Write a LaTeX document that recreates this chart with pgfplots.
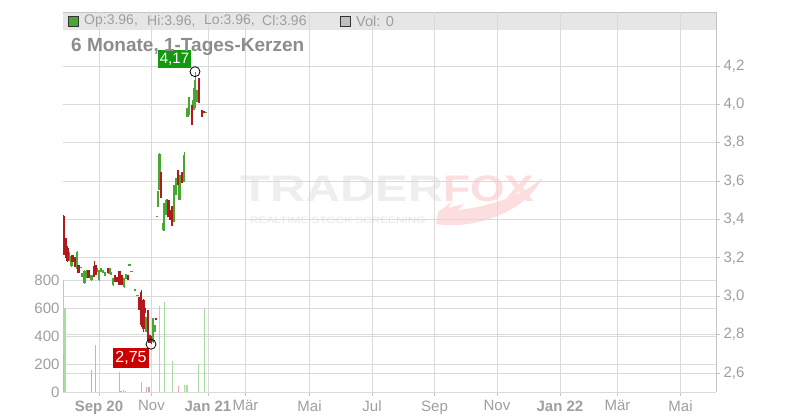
\documentclass[border=0pt]{standalone}
\usepackage{fontspec}
\setmainfont{Liberation Sans}
\usepackage{pgfplots}
\pgfplotsset{compat=1.18}
\usepackage{pgfplotstable}

\definecolor{cgreen}{HTML}{46A82E}
\definecolor{cred}{HTML}{B3191C}
\definecolor{vgreen}{HTML}{A8DCA0}
\definecolor{vred}{HTML}{EFA3AB}
\definecolor{vgray}{HTML}{B4B4B4}
\definecolor{gridc}{HTML}{DADADA}
\definecolor{axc}{HTML}{C4C4C4}
\definecolor{labc}{HTML}{9E9E9E}
\definecolor{titc}{HTML}{8C8C8C}
\definecolor{bandc}{HTML}{E6E6E6}
\definecolor{boxgreen}{HTML}{12990F}
\definecolor{boxred}{HTML}{CC0000}
\definecolor{wmgray}{HTML}{EEEEEE}
\definecolor{wmgray2}{HTML}{E6E6E6}
\definecolor{wmred}{HTML}{FCDEDE}

% green (rising) candles: x open high low close
\pgfplotstableread{
x o h l c
69 3.189 3.230 3.185 3.226
71.5 3.158 3.215 3.150 3.210
77 3.142 3.236 3.137 3.231
81 3.147 3.153 3.147 3.153
82.5 3.101 3.121 3.101 3.121
84.5 3.070 3.137 3.064 3.132
87 3.095 3.137 3.095 3.137
91.5 3.085 3.111 3.080 3.111
97 3.126 3.147 3.126 3.147
99 3.085 3.137 3.080 3.137
101 3.126 3.147 3.126 3.147
103 3.121 3.137 3.121 3.137
105 3.106 3.126 3.106 3.126
109.5 3.116 3.147 3.116 3.147
111 3.111 3.126 3.111 3.126
113 3.059 3.095 3.055 3.095
124 3.048 3.095 3.045 3.095
126 3.090 3.116 3.090 3.116
129.5 3.160 3.166 3.160 3.166
131.5 3.126 3.132 3.126 3.132
135 3.028 3.038 3.028 3.038
137.5 3.002 3.007 3.002 3.007
146.5 2.814 2.892 2.814 2.892
153 2.762 2.887 2.757 2.887
154.5 2.814 2.850 2.814 2.850
157 3.413 3.418 3.413 3.418
157.8 3.465 3.549 3.465 3.549
159.5 3.554 3.746 3.554 3.741
163 3.345 3.382 3.340 3.382
164.3 3.345 3.486 3.340 3.486
165.8 3.424 3.502 3.424 3.502
167.2 3.434 3.507 3.434 3.507
174 3.387 3.580 3.387 3.580
176 3.528 3.616 3.528 3.616
179.5 3.502 3.632 3.502 3.632
184 3.596 3.752 3.596 3.736
187.5 3.934 3.981 3.934 3.981
189 3.945 4.038 3.945 4.038
193.5 3.971 4.085 3.971 4.023
195 3.981 4.169 3.981 4.127
196.5 4.012 4.075 4.012 4.075
206 3.958 3.962 3.958 3.962
}\greencandles

% red (falling) candles: x open high low close
\pgfplotstableread{
x o h l c
63.8 3.418 3.425 3.215 3.226
65.5 3.304 3.304 3.200 3.215
67.5 3.252 3.260 3.180 3.184
72.5 3.215 3.215 3.179 3.179
75 3.205 3.205 3.153 3.153
78.5 3.163 3.163 3.121 3.121
88.5 3.137 3.137 3.095 3.095
94 3.158 3.184 3.101 3.101
95.5 3.163 3.163 3.111 3.111
108 3.147 3.147 3.121 3.121
115 3.111 3.111 3.074 3.074
117 3.101 3.101 3.074 3.074
119.5 3.132 3.132 3.059 3.059
122 3.111 3.111 3.059 3.059
128 3.111 3.111 3.085 3.085
139.5 2.996 2.996 2.929 2.929
141 3.020 3.033 2.840 2.850
143.5 2.981 2.986 2.814 2.830
145 2.939 2.939 2.913 2.913
148 2.929 2.929 2.772 2.772
149.5 2.798 2.798 2.757 2.757
151 2.788 2.793 2.751 2.757
156 2.887 2.887 2.876 2.876
161 3.648 3.648 3.512 3.512
168.5 3.502 3.502 3.413 3.413
170 3.450 3.450 3.398 3.398
172 3.471 3.471 3.366 3.366
178 3.658 3.658 3.580 3.580
182 3.648 3.648 3.590 3.590
192 3.997 4.023 3.893 3.893
199 4.137 4.137 4.007 4.007
202 3.971 3.971 3.934 3.934
203.5 3.965 3.965 3.955 3.955
}\redcandles

\pgfplotstableread{
x v
65 600
159.3 615
164.3 645
172.2 222
184.2 50
187 50
198.3 200
204.3 602
}\greenvol

\pgfplotstableread{
x v
63.5 280
95.3 336
119.3 140
141.3 72
146.7 38
178.3 44
}\redvol

\pgfplotstableread{
x v
91.3 157
121 10
123.3 12
125.3 10
148.5 38
149.8 36
}\grayvol

\begin{document}
\begin{tikzpicture}
\useasboundingbox (0,0) rectangle (800pt,420pt);

\begin{scope}[shift={(0pt,420pt)},x=1pt,y=-1pt]
  % watermark
  \node[anchor=base west, inner sep=0, text=wmgray, font=\fontsize{37}{40}\selectfont\bfseries] at (240,202) {\scalebox{1.32}[1]{TRADER}};
  \node[anchor=base west, inner sep=0, text=wmred, font=\fontsize{37}{40}\selectfont\bfseries] at (443,202) {\scalebox{1.2}[1]{FOX}};
  \node[anchor=base west, inner sep=0, text=wmgray2, font=\fontsize{9.3}{11}\selectfont] at (250,223.3) {\scalebox{1.27}[1]{REALTIME STOCK SCREENING}};
  \fill[wmred] (436,224) .. controls (470,230) and (525,214) .. (542,178)
     .. controls (520,198) and (485,207) .. (458,210) -- (464,204) -- (448,208) -- (453,201) -- (438,212) -- cycle;
  % header band
  \fill[bandc] (63,12) rectangle (716,30);
  \draw[axc, line width=0.8pt] (63,12) -- (716,12);
\end{scope}

% price axis: grid, ticks, labels
\begin{axis}[
  at={(63pt,28pt)}, anchor=south west,
  scale only axis, width=653pt, height=380pt,
  xmin=63, xmax=716, ymin=2.501, ymax=4.481,
  axis x line*=bottom, axis y line*=right,
  axis line style={draw=axc, line width=0.8pt},
  xtick={99,151.5,208,245.5,309.5,372,434.5,497,560,617.5,680.5},
  xticklabels={\textbf{Sep 20},Nov,\textbf{Jan 21},Mär,Mai,Jul,Sep,Nov,\textbf{Jan 22},Mär,Mai},
  ytick={2.6,2.8,3.0,3.2,3.4,3.6,3.8,4.0,4.2},
  xmajorgrids, ymajorgrids,
  grid style={draw=gridc, line width=0.8pt},
  tick align=outside, major tick length=4pt,
  tick style={draw=axc, line width=0.8pt},
  tick label style={font=\fontsize{15}{18}\selectfont, text=labc},
  yticklabel style={/pgf/number format/.cd, fixed, fixed zerofill, precision=1, use comma, assume math mode=true},
  xticklabel style={yshift=-1pt},
]
\end{axis}

% volume axis
\begin{axis}[
  at={(63pt,28pt)}, anchor=south west,
  scale only axis, width=653pt, height=112pt,
  xmin=63, xmax=716, ymin=0, ymax=800,
  axis x line=none, axis y line*=left,
  axis line style={draw=axc, line width=0.8pt},
  ytick={0,200,400,600,800},
  ymajorgrids, grid style={draw=gridc, line width=0.8pt},
  major tick length=0pt,
  tick label style={font=\fontsize{15}{18}\selectfont, text=labc},
  yticklabel style={/pgf/number format/assume math mode=true},
]
\addplot[ycomb, draw=vgreen, line width=1.1pt, mark=none] table[x=x,y=v] {\greenvol};
\addplot[ycomb, draw=vred, line width=1.1pt, mark=none] table[x=x,y=v] {\redvol};
\addplot[ycomb, draw=vgray, line width=1.1pt, mark=none] table[x=x,y=v] {\grayvol};
\end{axis}

% candles
\begin{axis}[
  at={(63pt,28pt)}, anchor=south west,
  scale only axis, width=653pt, height=380pt,
  xmin=63, xmax=716, ymin=2.501, ymax=4.481,
  hide axis, clip=false,
]
% wicks
\addplot[draw=none, mark=none, error bars/.cd, y dir=plus, y explicit, error mark=none,
  error bar style={draw=cgreen, line width=1pt}]
  table[x=x, y=l, y error expr=\thisrow{h}-\thisrow{l}] {\greencandles};
\addplot[draw=none, mark=none, error bars/.cd, y dir=plus, y explicit, error mark=none,
  error bar style={draw=cred, line width=1pt}]
  table[x=x, y=l, y error expr=\thisrow{h}-\thisrow{l}] {\redcandles};
% bodies
\addplot[draw=none, mark=none, error bars/.cd, y dir=plus, y explicit, error mark=none,
  error bar style={draw=cgreen, line width=2.2pt}]
  table[x=x, y=o, y error expr=\thisrow{c}-\thisrow{o}] {\greencandles};
\addplot[draw=none, mark=none, error bars/.cd, y dir=plus, y explicit, error mark=none,
  error bar style={draw=cred, line width=2.2pt}]
  table[x=x, y=c, y error expr=\thisrow{o}-\thisrow{c}] {\redcandles};
% high / low markers
\addplot[only marks, mark=o, mark size=5pt, mark options={draw=black, line width=0.8pt}]
  coordinates {(195,4.17) (151,2.75)};
\node[fill=boxgreen, text=white, inner sep=2pt, minimum height=18pt, font=\fontsize{15}{18}\selectfont] at (axis cs:174.5,4.236) {4,17};
\node[fill=boxred, text=white, inner sep=2pt, minimum height=20pt, font=\fontsize{16}{18}\selectfont] at (axis cs:131,2.678) {2,75};
\end{axis}

\begin{scope}[shift={(0pt,420pt)},x=1pt,y=-1pt]
  \filldraw[fill=cgreen, draw=black!80, line width=0.8pt] (68,16) rectangle (78,26);
  \node[anchor=west, inner sep=0, text=labc, font=\fontsize{14}{17}\selectfont] at (84,21) {Op:3.96,};
  \node[anchor=west, inner sep=0, text=labc, font=\fontsize{14}{17}\selectfont] at (147,21) {Hi:3.96,};
  \node[anchor=west, inner sep=0, text=labc, font=\fontsize{14}{17}\selectfont] at (204,21) {Lo:3.96,};
  \node[anchor=west, inner sep=0, text=labc, font=\fontsize{14}{17}\selectfont] at (262,21) {Cl:3.96};
  \filldraw[fill=black!25, draw=black!80, line width=0.8pt] (340,16) rectangle (350,26);
  \node[anchor=west, inner sep=0, text=labc, font=\fontsize{14.5}{17}\selectfont] at (356,21) {Vol: 0};
  \node[anchor=west, inner sep=0, text=titc, font=\fontsize{19}{22}\selectfont\bfseries] at (71,47) {6 Monate, 1-Tages-Kerzen};
\end{scope}
\end{tikzpicture}
\end{document}
